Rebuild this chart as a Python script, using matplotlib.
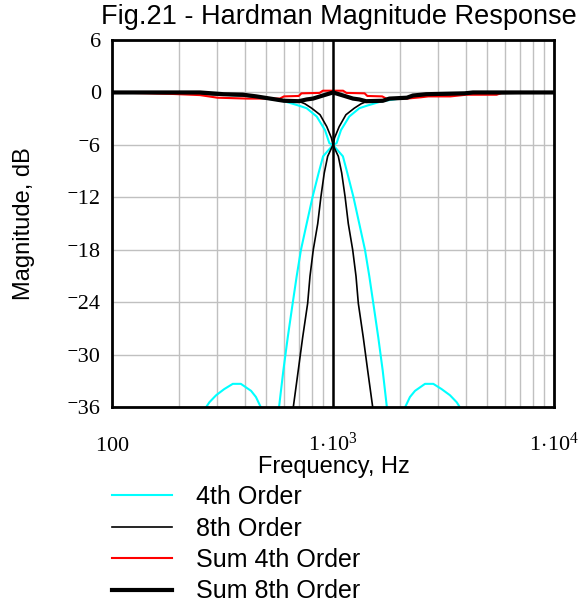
import matplotlib
matplotlib.use('Agg')

import matplotlib.pyplot as plt

plt.rcParams['font.family'] = ['Liberation Sans', 'DejaVu Sans']
plt.rcParams['mathtext.fontset'] = 'custom'
plt.rcParams['mathtext.rm'] = 'Liberation Serif'
plt.rcParams['mathtext.it'] = 'Liberation Serif'

# values (Hz, dB)
lp4_f = [100, 200, 300, 400, 500, 600, 700, 760, 844, 920, 963, 1000, 1109,
         1161, 1236, 1315, 1396, 1460, 1522, 1603, 1679, 1750, 1800, 1950,
         2117, 2230, 2350, 2608, 2844, 3101, 3383, 3628, 3757, 4200, 10000]
lp4_db = [0, -0.05, -0.2, -0.4, -0.7, -1.0, -1.5, -1.8, -2.75, -4.3, -5.8,
          -6.0, -7.3, -9.2, -11.9, -15.0, -18.0, -21.0, -24.1, -28.0, -31.8,
          -35.8, -40, -60, -36, -34.8, -34.1, -33.3, -33.3, -33.9, -34.6,
          -35.4, -36, -40, -70]
hp4_f = [10000, 5000, 3333, 2500, 2000, 1667, 1429, 1316, 1185, 1087, 1038,
         1000, 902, 861, 809, 760, 716, 685, 657, 624, 596, 571, 556, 513,
         472, 448, 426, 383, 352, 322, 296, 276, 266, 238, 100]
hp4_db = lp4_db

lp8_f = [100, 250, 400, 500, 600, 700, 747, 801, 874, 937, 984, 1000, 1057,
         1095, 1134, 1173, 1228, 1271, 1302, 1371, 1436, 1513, 1560, 10000]
lp8_db = [0, -0.2, -0.4, -0.6, -0.9, -1.0, -1.3, -1.8, -2.55, -3.9, -5.2,
          -6.0, -7.3, -9.2, -11.9, -15.0, -18.0, -21.0, -24.1, -28.0, -31.8,
          -36.0, -40, -80]
hp8_f = [10000, 4000, 2500, 2000, 1667, 1429, 1339, 1248, 1144, 1067, 1016,
         1000, 946, 913, 882, 853, 814, 787, 768, 729, 696, 661, 641, 100]
hp8_db = lp8_db

sum4_f = [100, 180, 250, 300, 410, 575, 600, 700, 720, 870, 900, 1000, 1111,
          1150, 1390, 1430, 1670, 1740, 2160, 2500, 2700, 3400, 4000, 5500,
          5800, 10000]
sum4_db = [0, -0.15, -0.3, -0.6, -0.7, -0.7, -0.45, -0.4, -0.1, -0.05, 0.2,
           0.2, 0.2, -0.05, -0.1, -0.4, -0.45, -0.7, -0.7, -0.55, -0.45, -0.45,
           -0.26, -0.26, -0.05, 0]

sum8_f = [100, 250, 320, 390, 450, 520, 600, 700, 760, 812, 900, 1000, 1111,
          1232, 1316, 1410, 1680, 1800, 2160, 2300, 2640, 3200, 3940, 4300,
          10000]
sum8_db = [0, 0, -0.2, -0.25, -0.45, -0.7, -0.95, -1.0, -0.8, -0.7, -0.35, 0,
           -0.35, -0.7, -0.8, -1.0, -0.95, -0.7, -0.6, -0.35, -0.2, -0.15, -0.1,
           0, 0]

crossover = 1000
yticks = [6, 0, -6, -12, -18, -24, -30, -36]
ytick_labels = ['6', '0', '\u207b6', '\u207b12', '\u207b18', '\u207b24',
                '\u207b30', '\u207b36']
xticks = [100, 1000, 10000]
xtick_labels = ['$100$', r'$1\!\cdot\!10^{3}$', r'$1\!\cdot\!10^{4}$']
legend_labels = ['4th Order', '8th Order', 'Sum 4th Order', 'Sum 8th Order']


fig = plt.figure(figsize=(5.82, 6.10), dpi=100)
ax = fig.add_axes([0.1924, 0.332, 0.7595, 0.6025])

ax.set_xscale('log')
ax.set_xlim(100, 10000)
ax.set_ylim(-36, 6)

l1, = ax.plot(lp4_f, lp4_db, color='#00ffff', lw=1.5, zorder=2)
ax.plot(hp4_f, hp4_db, color='#00ffff', lw=1.5, zorder=2)
l2, = ax.plot(lp8_f, lp8_db, color='black', lw=1.2, zorder=3)
ax.plot(hp8_f, hp8_db, color='black', lw=1.2, zorder=3)
l3, = ax.plot(sum4_f, sum4_db, color='red', lw=1.5, zorder=4)
l4, = ax.plot(sum8_f, sum8_db, color='black', lw=3, zorder=5)

ax.axvline(crossover, color='black', lw=1.8, zorder=6)

ax.grid(True, which='both', axis='x', color='#c0c0c0', lw=1)
ax.grid(True, which='major', axis='y', color='#c0c0c0', lw=1)
ax.set_axisbelow(True)

ax.set_yticks(yticks)
ax.set_yticklabels(ytick_labels, fontsize=16,
                   family=['Liberation Serif', 'DejaVu Serif'])
ax.set_xticks(xticks)
ax.set_xticklabels(xtick_labels, fontsize=16)
ax.tick_params(which='both', length=0)
ax.tick_params(axis='x', pad=31)
ax.tick_params(axis='y', pad=8)
for lab in ax.get_xticklabels():
    lab.set_verticalalignment('baseline')

for s in ax.spines.values():
    s.set_linewidth(2)

fig.text(339 / 582, 1 - 24 / 610, 'Fig.21 - Hardman Magnitude Response',
         fontsize=19.5, ha='center', va='baseline')
fig.text(334 / 582, 1 - 467 / 610, 'Frequency, Hz', fontsize=17,
         ha='center', va='center')
fig.text(24 / 582, 1 - 224 / 610, 'Magnitude, dB', fontsize=17,
         ha='center', va='center', rotation=90)

fig.legend([l1, l2, l3, l4], legend_labels,
           loc='upper left', bbox_to_anchor=(112 / 582, 1 - 485 / 610),
           frameon=False, fontsize=18, handlelength=2.4,
           handletextpad=0.95, labelspacing=0.3,
           borderpad=0, borderaxespad=0)

fig.savefig('out.png', dpi=100)
